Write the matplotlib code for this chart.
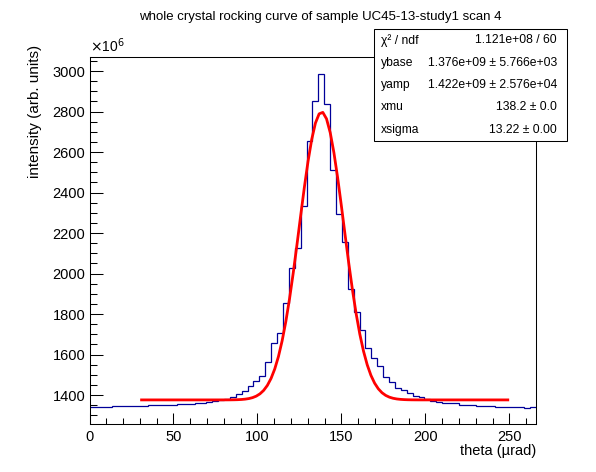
#!/usr/bin/env python3
# rocking curve histogram with gaussian + flat background fit (ROOT style)

import numpy as np
import matplotlib
matplotlib.use("Agg")
import matplotlib.pyplot as plt
from matplotlib.patches import Rectangle
from matplotlib.ticker import MultipleLocator

plt.rcParams['font.family'] = ['Liberation Sans', 'DejaVu Sans']

# histogram bin edges (theta, urad) and contents (units of 1e6)
edges = [-5.0, 13.5, 34.9, 51.8, 62.7, 69.6, 73.2, 76.6, 80.0, 83.5,
         87.1, 90.6, 94.1, 97.6, 101.1, 104.7, 108.2, 111.7, 115.2, 118.7,
         122.2, 125.7, 129.2, 132.7, 136.2, 139.8, 143.3, 146.8, 150.3, 153.8,
         157.3, 160.8, 164.3, 167.8, 171.3, 174.9, 178.4, 181.9, 185.4, 188.9,
         192.4, 195.9, 199.4, 202.8, 206.3, 209.8, 219.7, 230.2, 241.1, 258.6,
         262.4, 272.0]
counts = [1341, 1346, 1351, 1354, 1359, 1365, 1370, 1375, 1380, 1389,
          1403, 1421, 1444, 1471, 1494, 1561, 1655, 1705, 1856, 2026,
          2124, 2335, 2654, 2853, 2984, 2837, 2511, 2292, 2157, 1922,
          1808, 1721, 1631, 1581, 1545, 1490, 1466, 1433, 1425, 1408,
          1395, 1389, 1379, 1372, 1367, 1359, 1351, 1347, 1339, 1334,
          1341]

# fit results shown in the stats box
ybase = 1.376e9
yamp = 1.422e9
xmu = 138.2
xsigma = 13.22
fit_lo, fit_hi = 31.0, 249.0

stat_names = ["χ² / ndf", "ybase", "yamp", "xmu", "xsigma"]
stat_values = ["1.121e+08 / 60", "1.376e+09 ± 5.766e+03",
               "1.422e+09 ± 2.576e+04", "138.2 ± 0.0", "13.22 ± 0.00"]

W, H = 596, 472
fig = plt.figure(figsize=(W / 100, H / 100), dpi=100)
ax = fig.add_axes([89.5 / W, 1 - 424 / H, (536 - 89.5) / W, (424 - 56.5) / H])

ax.stairs(counts, edges, baseline=None, color='#000099', lw=0.9, zorder=2)

xf = np.linspace(fit_lo, fit_hi, 100)
yf = (ybase + yamp * np.exp(-0.5 * ((xf - xmu) / xsigma) ** 2)) / 1e6
ax.plot(xf, yf, color='#ff0000', lw=2.0, zorder=3)

ax.set_xlim(0, 265.8)
ax.set_ylim(1257, 3072)

ax.xaxis.set_major_locator(MultipleLocator(50))
ax.xaxis.set_minor_locator(MultipleLocator(10))
ax.yaxis.set_major_locator(MultipleLocator(200))
ax.yaxis.set_minor_locator(MultipleLocator(50))
ax.tick_params(axis='x', which='major', direction='in', length=8, width=0.75,
               labelsize=10.5, pad=4)
ax.tick_params(axis='x', which='minor', direction='in', length=4, width=0.75)
ax.tick_params(axis='y', which='major', direction='in', length=9.6, width=0.75,
               labelsize=10.5, pad=3)
ax.tick_params(axis='y', which='minor', direction='in', length=4.8, width=0.75)
for s in ax.spines.values():
    s.set_linewidth(0.75)

ax.text(1.0, -0.0735, "theta (µrad)", transform=ax.transAxes,
        ha='right', va='center', fontsize=10.5)
ax.text(-0.122, 1.031, "intensity (arb. units)", transform=ax.transAxes,
        rotation=90, ha='center', va='top', fontsize=11)
ax.text(0.0, 1.003, r"$\times$10$^{6}$", transform=ax.transAxes,
        ha='left', va='bottom', fontsize=10)

fig.text(320 / W, 1 - 17 / H, "whole crystal rocking curve of sample UC45-13-study1 scan 4",
         ha='center', va='center', fontsize=9.5)

# stats box
bx0, bx1, by0, by1 = 374, 567, 29, 141
fig.add_artist(Rectangle((bx0 / W, 1 - by1 / H), (bx1 - bx0) / W, (by1 - by0) / H,
                         transform=fig.transFigure, facecolor='white',
                         edgecolor='black', lw=0.75, zorder=10))
row_h = (by1 - by0) / len(stat_names)
for i, (nm, val) in enumerate(zip(stat_names, stat_values)):
    yc = by0 + row_h * (i + 0.5)
    fig.text(381 / W, 1 - yc / H, nm, ha='left', va='center', fontsize=8.7, zorder=11)
    fig.text(557 / W, 1 - yc / H, val, ha='right', va='center', fontsize=8.7, zorder=11)

fig.savefig("out.png", dpi=100)
